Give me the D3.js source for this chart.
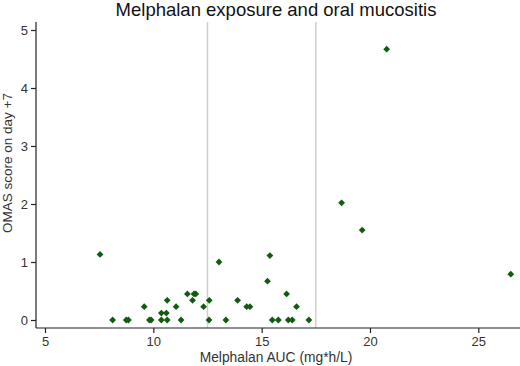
<!DOCTYPE html>
<html>
<head>
<meta charset="utf-8">
<script src="https://cdn.jsdelivr.net/npm/d3@7"></script>
<style>
  body { margin: 0; background: #fff; }
  text { font-family: "Liberation Sans", Arial, sans-serif; }
</style>
</head>
<body>
<script>
// Melphalan AUC vs OMAS score
var auc = [7.54, 8.12, 8.75, 8.85, 9.58, 9.82, 9.90, 10.37, 10.60, 10.37,
           10.64, 10.64, 11.05, 11.28, 11.57, 11.88, 11.96, 11.81, 12.32, 12.58,
           12.57, 13.03, 13.35, 13.89, 14.31, 14.46, 15.38, 15.27, 16.15, 16.61,
           15.49, 15.77, 16.23, 16.41, 17.18, 18.69, 19.64, 26.5, 20.77];
var omas = [1.13, 0, 0, 0, 0.23, 0, 0, 0.12, 0.12, 0,
            0, 0.34, 0.23, 0, 0.45, 0.45, 0.45, 0.34, 0.23, 0.34,
            0, 1.0, 0, 0.34, 0.23, 0.23, 1.11, 0.67, 0.45, 0.23,
            0, 0, 0, 0, 0, 2.02, 1.55, 0.79, 4.67];
var xTicks = [5, 10, 15, 20, 25];
var yTicks = [0, 1, 2, 3, 4, 5];
var cutoffs = [12.5, 17.5];

var width = 520, height = 366;
var plotLeft = 36, plotTop = 22, plotBottom = 328;

var svg = d3.select("body").append("svg")
    .attr("width", width)
    .attr("height", height);

var x = d3.scaleLinear().domain([5, 25]).range([45, 478.3]);
var y = d3.scaleLinear().domain([0, 5]).range([320, 30]);

// reference lines
svg.selectAll(".cut")
    .data(cutoffs)
    .enter().append("line")
    .attr("x1", function(d) { return x(d); })
    .attr("x2", function(d) { return x(d); })
    .attr("y1", plotTop)
    .attr("y2", plotBottom)
    .style("stroke", "#cfcfcf")
    .style("stroke-width", 1.5);

// axes
var xAxis = svg.append("g")
    .attr("transform", "translate(0," + plotBottom + ")")
    .call(d3.axisBottom(x).tickValues(xTicks).tickFormat(d3.format("d"))
      .tickSize(5).tickPadding(4).tickSizeOuter(0));
var yAxis = svg.append("g")
    .attr("transform", "translate(" + plotLeft + ",0)")
    .call(d3.axisLeft(y).tickValues(yTicks).tickFormat(d3.format("d"))
      .tickSize(5).tickPadding(3).tickSizeOuter(0));

xAxis.select(".domain").attr("d", "M" + plotLeft + ",0H" + width);
yAxis.select(".domain").attr("d", "M0," + plotTop + "V" + plotBottom);

[xAxis, yAxis].forEach(function(a) {
  a.selectAll("text")
    .style("font-family", "Liberation Sans, Arial, sans-serif")
    .style("font-size", "13px")
    .style("fill", "#333");
  a.selectAll("line, path").style("stroke", "#222").style("stroke-width", 1.2);
});

// points
svg.selectAll(".pt")
    .data(auc)
    .enter().append("path")
    .attr("class", "pt")
    .attr("d", d3.symbol().type(d3.symbolSquare).size(23))
    .attr("transform", function(d, i) {
      return "translate(" + x(d) + "," + y(omas[i]) + ") rotate(45)";
    })
    .style("fill", "#125c12");

// title and axis titles
svg.append("text")
    .attr("x", 276)
    .attr("y", 16)
    .attr("text-anchor", "middle")
    .style("font-size", "18.5px")
    .style("fill", "#111")
    .text("Melphalan exposure and oral mucositis");

svg.append("text")
    .attr("x", 276)
    .attr("y", 362)
    .attr("text-anchor", "middle")
    .style("font-size", "13.8px")
    .style("fill", "#333")
    .text("Melphalan AUC (mg*h/L)");

svg.append("text")
    .attr("transform", "translate(12,163) rotate(-90)")
    .attr("text-anchor", "middle")
    .style("font-size", "13.5px")
    .style("fill", "#333")
    .text("OMAS score on day +7");
</script>
</body>
</html>
